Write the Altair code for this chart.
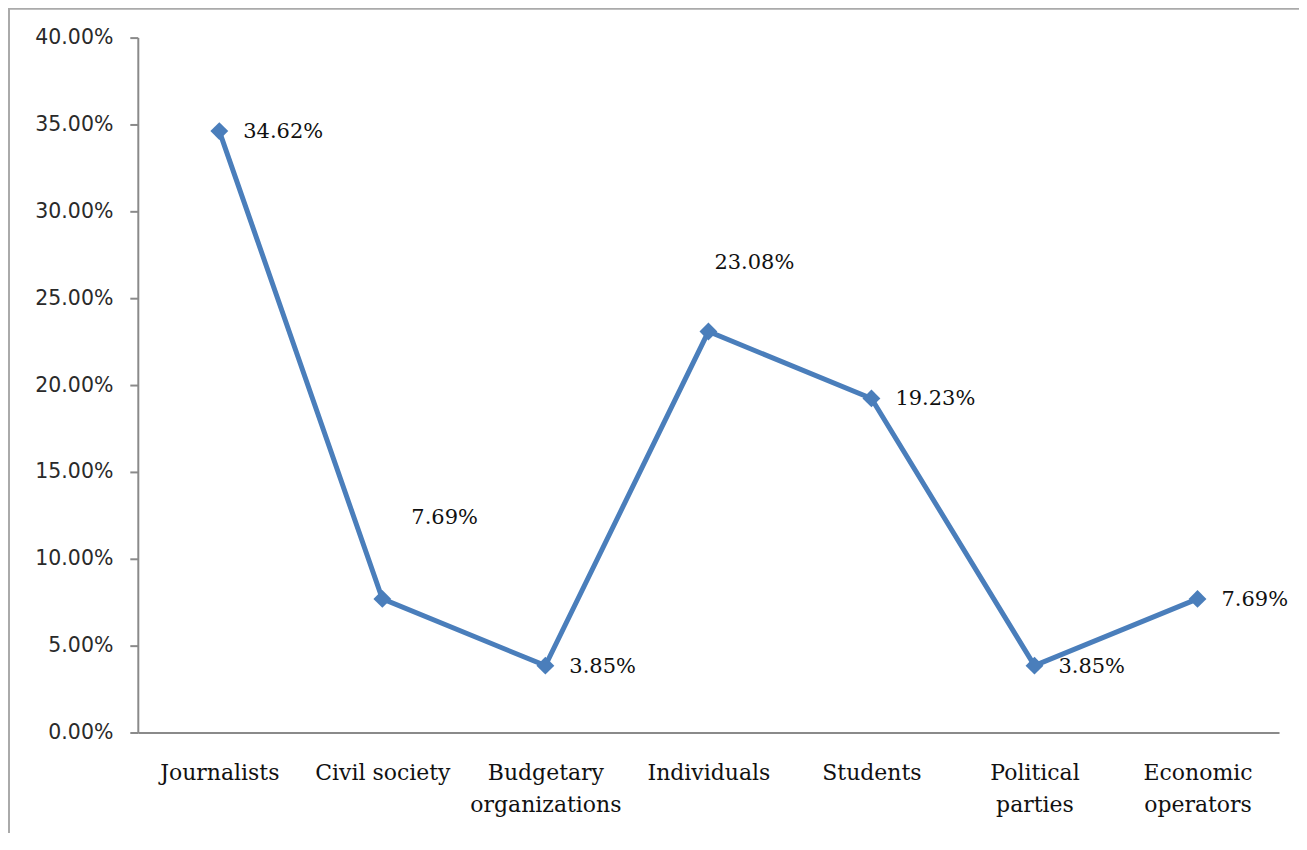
import altair as alt
import pandas as pd

categories = ["Journalists", "Civil society", "Budgetary organizations", "Individuals",
              "Students", "Political parties", "Economic operators"]
shares = [34.62, 7.69, 3.85, 23.08, 19.23, 3.85, 7.69]
y_ticks = [0, 5, 10, 15, 20, 25, 30, 35, 40]

df = pd.DataFrame({"category": categories, "share": [v / 100 for v in shares]})

BLUE = "#4a7ebb"
GREY = "#8a8a8a"

x_enc = alt.X(
    "category:N", sort=categories, title=None,
    axis=alt.Axis(
        labelAngle=0, ticks=False, domainColor=GREY, domainWidth=2,
        labelFont="DejaVu Serif", labelFontSize=22, labelColor="#111111",
        labelPadding=30, labelLineHeight=32, labelBaseline="top",
        labelExpr="datum.label == 'Civil society' ? datum.label : split(datum.label, ' ')",
        grid=False,
    ),
)
y_enc = alt.Y(
    "share:Q", title=None,
    scale=alt.Scale(domain=[0, 0.4], nice=False),
    axis=alt.Axis(
        values=[v / 100 for v in y_ticks], format=".2%", tickSize=8, tickWidth=2,
        tickColor=GREY, domainColor=GREY, domainWidth=2, grid=False,
        labelFont="DejaVu Sans", labelFontSize=20.5, labelColor="#2a2a2a", labelPadding=17,
    ),
)

base = alt.Chart(df).encode(x=x_enc, y=y_enc)

line = base.mark_line(color=BLUE, strokeWidth=5)
points = base.mark_point(shape="diamond", filled=True, size=320, color=BLUE, opacity=1)

txt = dict(font="DejaVu Serif", fontSize=21, color="#111111", align="left", baseline="middle")
right_cats = ["Journalists", "Budgetary organizations", "Students", "Political parties", "Economic operators"]
text_right = base.transform_filter(
    alt.FieldOneOfPredicate(field="category", oneOf=right_cats)
).mark_text(dx=24, dy=1, **txt).encode(text=alt.Text("share:Q", format=".2%"))
text_civil = base.transform_filter(
    alt.FieldEqualPredicate(field="category", equal="Civil society")
).mark_text(dx=29, dy=-81, **txt).encode(text=alt.Text("share:Q", format=".2%"))
text_indiv = base.transform_filter(
    alt.FieldEqualPredicate(field="category", equal="Individuals")
).mark_text(dx=6, dy=-69, **txt).encode(text=alt.Text("share:Q", format=".2%"))

frame_df = pd.DataFrame({"k": [0]})
frame_top = alt.Chart(frame_df).mark_rule(color="#aaaaaa", strokeWidth=2, clip=False).encode(
    x=alt.value(-130), x2=alt.value(1200), y=alt.value(-29)
)
frame_left = alt.Chart(frame_df).mark_rule(color="#aaaaaa", strokeWidth=2, clip=False).encode(
    x=alt.value(-129), y=alt.value(-29), y2=alt.value(830)
)

chart = alt.layer(
    frame_top, frame_left, line, points, text_right, text_civil, text_indiv
).properties(
    width=1143, height=696,
    autosize=alt.AutoSizeParams(type="none"),
    padding={"left": 130, "top": 29, "right": 20, "bottom": 100},
    background="white",
).configure_view(stroke=None)

chart.save("out.html", embed_options={"renderer": "svg", "actions": False})
